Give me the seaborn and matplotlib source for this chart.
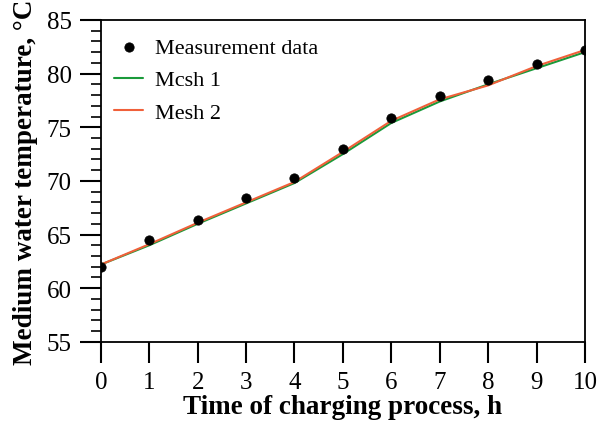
import matplotlib
matplotlib.use("Agg")
import matplotlib.pyplot as plt
import seaborn as sns
import pandas as pd
from matplotlib.ticker import MultipleLocator

hours = [0, 1, 2, 3, 4, 5, 6, 7, 8, 9, 10]
measured = [62.0, 64.5, 66.4, 68.4, 70.3, 73.0, 75.9, 77.9, 79.4, 80.9, 82.2]
mesh1 = [62.2, 64.0, 66.0, 67.9, 69.8, 72.5, 75.4, 77.4, 79.0, 80.5, 82.0]
mesh2 = [62.2, 64.1, 66.1, 68.0, 69.9, 72.7, 75.6, 77.6, 78.9, 80.7, 82.2]

sns.set_style("white")
plt.rcParams['font.family'] = ['Liberation Serif', 'DejaVu Serif']
plt.rcParams['text.color'] = 'black'
plt.rcParams['axes.labelcolor'] = 'black'
plt.rcParams['xtick.color'] = 'black'
plt.rcParams['ytick.color'] = 'black'

df = pd.DataFrame({"h": hours, "meas": measured, "m1": mesh1, "m2": mesh2})

fig, ax = plt.subplots(figsize=(6, 4.27), dpi=100)
fig.subplots_adjust(left=0.168, right=0.975, top=0.951, bottom=0.197)

sns.scatterplot(data=df, x="h", y="meas", ax=ax, color="black", s=45,
                edgecolor="black", label="Measurement data", zorder=3)
sns.lineplot(data=df, x="h", y="m1", ax=ax, color="#1a9a3a", lw=1.5, label="Mcsh 1")
sns.lineplot(data=df, x="h", y="m2", ax=ax, color="#f0603a", lw=1.5, label="Mesh 2")

ax.set_xlim(0, 10)
ax.set_ylim(55, 85)
ax.xaxis.set_major_locator(MultipleLocator(1))
ax.yaxis.set_major_locator(MultipleLocator(5))
ax.yaxis.set_minor_locator(MultipleLocator(1))
ax.tick_params(axis='both', which='major', direction='out', length=15, width=1.5,
               labelsize=18, left=True, bottom=True, right=False, top=False, pad=6)
ax.tick_params(axis='y', which='minor', direction='out', length=7, width=1.2, left=True)
for s in ax.spines.values():
    s.set_linewidth(1.3)
    s.set_color("black")

ax.set_xlabel("Time of charging process, h", fontsize=19.5, fontweight='bold', labelpad=1)
ax.set_ylabel("Medium water temperature, °C", fontsize=19.5, fontweight='bold', labelpad=6)

leg = ax.legend(loc='upper left', bbox_to_anchor=(0, 0.988), frameon=False,
                fontsize=16, handlelength=1.3, handletextpad=0.55,
                borderaxespad=0.3, labelspacing=0.55, borderpad=0.3)

fig.savefig("out.png", dpi=100)
